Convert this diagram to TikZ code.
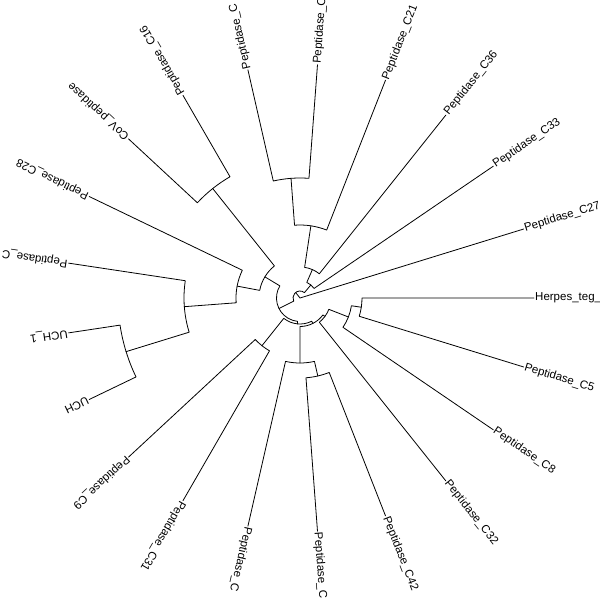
\documentclass[tikz,border=0pt]{standalone}
\usepackage{fontspec}
\setmainfont{Liberation Sans}

\begin{document}
\begin{tikzpicture}[
    x=1pt, y=1pt,
    leaf/.style={anchor=west, inner sep=1pt, font=\fontsize{11.5}{13}\selectfont},
    branch/.style={line width=0.8pt, black, line cap=round, line join=round}
]
    \useasboundingbox (-300,-302) rectangle (300,298);
    \clip (-300,-302) rectangle (300,298);

    % Tips around the circle
    \node[leaf, rotate=17.14] (c27) at (17.14:234) {Peptidase\_C27};
    \node[leaf, rotate=34.29] (c33) at (34.29:234) {Peptidase\_C33};
    \node[leaf, rotate=51.43] (c36) at (51.43:234) {Peptidase\_C36};
    \node[leaf, rotate=68.57] (c21) at (68.57:234) {Peptidase\_C21};
    \node[leaf, rotate=85.71] (pcTopR) at (85.71:234) {Peptidase\_C};
    \node[leaf, rotate=102.86] (pcTopL) at (102.86:234) {Peptidase\_C};
    \node[leaf, rotate=120] (c16) at (120:234) {Peptidase\_C16};
    \node[leaf, rotate=137.14] (cov) at (137.14:234) {CoV\_peptidase};
    \node[leaf, rotate=154.29] (c28) at (154.29:234) {Peptidase\_C28};
    \node[leaf, rotate=171.43] (pcLeft) at (171.43:234) {Peptidase\_C};
    \node[leaf, rotate=188.57] (uch1) at (188.57:234) {UCH\_1};
    \node[leaf, rotate=205.71] (uch) at (205.71:234) {UCH};
    \node[leaf, rotate=222.86] (c9) at (222.86:234) {Peptidase\_C9};
    \node[leaf, rotate=240] (c31) at (240:234) {Peptidase\_C31};
    \node[leaf, rotate=257.14] (pcBotL) at (257.14:234) {Peptidase\_C};
    \node[leaf, rotate=274.29] (pcBot) at (274.29:234) {Peptidase\_C};
    \node[leaf, rotate=291.43] (c42) at (291.43:234) {Peptidase\_C42};
    \node[leaf, rotate=308.57] (c32) at (308.57:234) {Peptidase\_C32};
    \node[leaf, rotate=325.71] (c8) at (325.71:234) {Peptidase\_C8};
    \node[leaf, rotate=342.86] (c5) at (342.86:234) {Peptidase\_C5};
    \node[leaf] (herpes) at (0:234) {Herpes\_teg\_};

    % Inner nodes
    \coordinate (root) at (0,0);
    \coordinate (nA) at (94.29:120);
    \coordinate (nB) at (81.43:73);
    \coordinate (nC) at (66.43:31);
    \coordinate (nD) at (50.36:17);
    \coordinate (nP) at (128.57:140);
    \coordinate (nL) at (197.14:182);
    \coordinate (nM) at (184.29:116);
    \coordinate (nN) at (169.29:64);
    \coordinate (nO) at (148.93:41);
    \coordinate (nK) at (231.43:61);
    \coordinate (nI) at (282.86:80);
    \coordinate (nH) at (270:65);
    \coordinate (nE) at (351.43:62);
    \coordinate (nF) at (338.57:52);
    \coordinate (nG) at (323.57:31);
    \coordinate (nS) at (296.79:28.5);
    \coordinate (nU) at (264.11:26);
    \coordinate (nQ) at (206.52:23.5);
    \coordinate (nY) at (128.44:7);

    % Branches, one arc per inner node
    \draw[branch] (pcTopR.west) -- (85.71:120) arc[start angle=85.71, end angle=102.86, radius=120pt] -- (pcTopL.west);
    \draw[branch] (c21.west) -- (68.57:73) arc[start angle=68.57, end angle=94.29, radius=73pt] -- (nA);
    \draw[branch] (c36.west) -- (51.43:31) arc[start angle=51.43, end angle=81.43, radius=31pt] -- (nB);
    \draw[branch] (c33.west) -- (34.29:17) arc[start angle=34.29, end angle=66.43, radius=17pt] -- (nC);
    \draw[branch] (c16.west) -- (120:140) arc[start angle=120, end angle=137.14, radius=140pt] -- (cov.west);
    \draw[branch] (uch1.west) -- (188.57:182) arc[start angle=188.57, end angle=205.71, radius=182pt] -- (uch.west);
    \draw[branch] (pcLeft.west) -- (171.43:116) arc[start angle=171.43, end angle=197.14, radius=116pt] -- (nL);
    \draw[branch] (c28.west) -- (154.29:64) arc[start angle=154.29, end angle=184.29, radius=64pt] -- (nM);
    \draw[branch] (nP) -- (128.57:41) arc[start angle=128.57, end angle=169.29, radius=41pt] -- (nN);
    \draw[branch] (c9.west) -- (222.86:61) arc[start angle=222.86, end angle=240, radius=61pt] -- (c31.west);
    \draw[branch] (pcBot.west) -- (274.29:80) arc[start angle=274.29, end angle=291.43, radius=80pt] -- (c42.west);
    \draw[branch] (pcBotL.west) -- (257.14:65) arc[start angle=257.14, end angle=282.86, radius=65pt] -- (nI);
    \draw[branch] (c5.west) -- (342.86:62) arc[start angle=342.86, end angle=360, radius=62pt] -- (herpes.west);
    \draw[branch] (c8.west) -- (325.71:52) arc[start angle=325.71, end angle=351.43, radius=52pt] -- (nE);
    \draw[branch] (c32.west) -- (308.57:31) arc[start angle=308.57, end angle=338.57, radius=31pt] -- (nF);
    \draw[branch] (nH) -- (270:28.5) arc[start angle=270, end angle=323.57, radius=28.5pt] -- (nG);
    \draw[branch] (nK) -- (231.43:26) arc[start angle=231.43, end angle=296.79, radius=26pt] -- (nS);
    \draw[branch] (nO) -- (148.93:23.5) arc[start angle=148.93, end angle=264.11, radius=23.5pt] -- (nU);
    \draw[branch] (nD) -- (50.36:7) arc[start angle=50.36, end angle=206.52, radius=7pt] -- (nQ);
    \draw[branch] (c27.west) -- (root) -- (nY);
\end{tikzpicture}
\end{document}
